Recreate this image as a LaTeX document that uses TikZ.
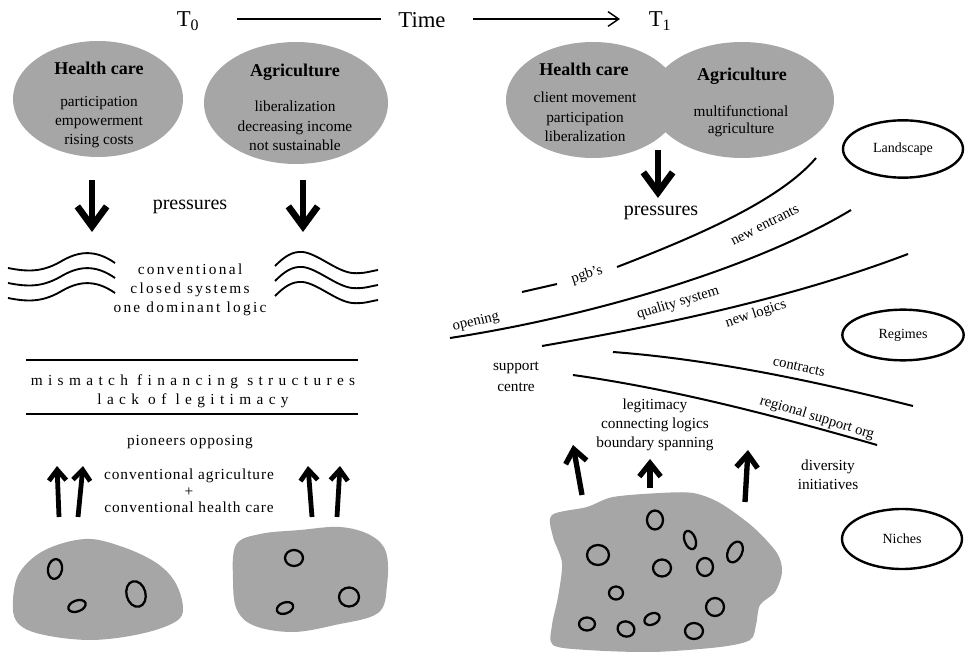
\documentclass[tikz,border=0pt]{standalone}
\usepackage{fontspec}
\setmainfont{Liberation Serif}
\newfontfamily\wideA[LetterSpace=15]{Liberation Serif}
\newfontfamily\wideB[LetterSpace=35]{Liberation Serif}
\newfontfamily\wideC[LetterSpace=6]{Liberation Serif}
\usetikzlibrary{arrows.meta,shapes.geometric}
\definecolor{blobgray}{HTML}{A6A6A6}

\begin{document}
\begin{tikzpicture}[x=0.75pt,y=-0.75pt,
  txt/.style={inner sep=0pt, align=center, font=\fontsize{11.5}{13.5}\selectfont},
  title/.style={inner sep=0pt, font=\fontsize{13.5}{15}\selectfont\bfseries},
  big/.style={inner sep=0pt, font=\fontsize{17}{19}\selectfont},
  press/.style={inner sep=0pt, font=\fontsize{15}{17}\selectfont},
  curvelbl/.style={inner sep=0pt, font=\fontsize{11}{13}\selectfont},
  levelbox/.style={draw=black, line width=1.8pt, ellipse, inner sep=0pt},
  sector/.style={fill=blobgray},
  blob/.style={fill=blobgray},
  loop/.style={draw=black, line width=1.7pt},
  trend/.style={draw=black, line width=1.5pt},
  wave/.style={draw=black, line width=1.4pt},
  bigdown/.style={line width=5pt, -{Straight Barb[length=15pt,width=22pt]}},
  upA/.style={line width=3.6pt, -{Straight Barb[length=8pt,width=13pt]}},
  upB/.style={line width=4pt, -{Straight Barb[length=10pt,width=16pt]}},
  timeline/.style={line width=1.1pt},
  timearrow/.style={line width=1.1pt, -{Straight Barb[length=8pt,width=11pt]}}
]
\useasboundingbox (0,0) rectangle (968,652);

% ---------- time axis ----------
\node[big] (t0) at (188,21) {T\textsubscript{0}};
\node[big] (time) at (422,20) {Time};
\node[big] (t1) at (660,21) {T\textsubscript{1}};
\coordinate (ax1) at (237,19);
\coordinate (ax2) at (381,19);
\coordinate (ax3) at (473,19);
\coordinate (ax4) at (620,19);
\draw[timeline] (ax1) -- (ax2);
\draw[timearrow] (ax3) -- (ax4);

% ---------- T0: sectors ----------
\fill[sector] (98,99) ellipse [x radius=85, y radius=58];
\fill[sector] (296,103) ellipse [x radius=92, y radius=61];
\node[title] (hcL) at (99,68) {Health care};
\node[txt] (hcLtxt) at (99,122) {participation\\[1pt]empowerment\\[1pt]rising costs};
\node[title] (agL) at (295,72) {Agriculture};
\node[txt] (agLtxt) at (295,126) {liberalization\\[1pt]decreasing income\\[1pt]not sustainable};

% pressures
\coordinate (pdL1) at (92,180);
\coordinate (pdL2) at (92,232);
\coordinate (pdR1) at (303,180);
\coordinate (pdR2) at (303,232);
\draw[bigdown] (pdL1) -- (pdL2);
\draw[bigdown] (pdR1) -- (pdR2);
\node[press] (pressL) at (190,207) {pressures};

% closed systems with waves
\foreach \o in {0,15,30}{
  \draw[wave] (8,268+\o) .. controls (28,272+\o) and (42,272+\o) .. (60,262+\o)
              .. controls (78,251+\o) and (95,249+\o) .. (115,263+\o);
  \draw[wave] (275,266+\o) .. controls (284,257+\o) and (292,251+\o) .. (303,252+\o)
              .. controls (318,254+\o) and (336,271+\o) .. (352,273+\o)
              .. controls (364,274+\o) and (371,271+\o) .. (378,270+\o);
}
\node[txt, font=\fontsize{11.5}{13.5}\selectfont\wideA] (closed) at (190,290)
  {conventional\\[0.5pt]closed systems\\[0.5pt]one dominant logic};

% mismatch band
\coordinate (bandA1) at (26,360);
\coordinate (bandA2) at (358,360);
\coordinate (bandB1) at (26,414);
\coordinate (bandB2) at (358,414);
\draw[trend] (bandA1) -- (bandA2);
\draw[trend] (bandB1) -- (bandB2);
\node[txt, font=\fontsize{11.5}{13.5}\selectfont\wideB] (mismatch) at (193,391)
  {mismatch financing structures\\[1pt]lack of legitimacy};

% pioneers
\node[txt, font=\fontsize{11.5}{13.5}\selectfont\wideC] (pioneers) at (190,442) {pioneers opposing};
\node[txt, font=\fontsize{11.5}{12.5}\selectfont\wideC] (convent) at (189,491)
  {conventional agriculture\\+\\conventional health care};
\coordinate (uL1a) at (59,517); \coordinate (uL1b) at (57,466);
\coordinate (uL2a) at (78,517); \coordinate (uL2b) at (83,466);
\coordinate (uR1a) at (312,517); \coordinate (uR1b) at (308,466);
\coordinate (uR2a) at (337,517); \coordinate (uR2b) at (340,466);
\draw[upA] (uL1a) -- (uL1b);
\draw[upA] (uL2a) -- (uL2b);
\draw[upA] (uR1a) -- (uR1b);
\draw[upA] (uR2a) -- (uR2b);

% niche blobs at T0
\fill[blob] plot[smooth cycle, tension=0.6] coordinates
  {(13,600) (20,572) (45,550) (85,539) (120,546) (155,562) (175,582) (183,608)
   (175,622) (140,634) (90,640) (40,634) (17,622)};
\draw[loop] (55,569) ellipse [x radius=7, y radius=10, rotate=-10];
\draw[loop] (77,606) ellipse [x radius=9, y radius=5.5, rotate=20];
\draw[loop] (136,594) ellipse [x radius=9.5, y radius=13, rotate=15];

\fill[blob] plot[smooth cycle, tension=0.6] coordinates
  {(236,545) (260,534) (300,530) (340,527) (370,535) (386,552) (387,585)
   (378,613) (335,625) (293,632) (255,626) (237,610) (233,580)};
\draw[loop] (294,558) ellipse [x radius=9, y radius=8];
\draw[loop] (285,608) ellipse [x radius=8.5, y radius=5.5, rotate=20];
\draw[loop] (349,597) ellipse [x radius=10, y radius=9.5];

% ---------- T1: merged sectors ----------
\fill[sector] (593,100) ellipse [x radius=87, y radius=58];
\fill[sector] (742,100) ellipse [x radius=92, y radius=58];
\node[title] (hcR) at (584,69) {Health care};
\node[txt, font=\fontsize{11.5}{14.5}\selectfont] (hcRtxt) at (585,117)
  {client movement\\participation\\liberalization};
\node[title] (agR) at (742,76) {Agriculture};
\node[txt, font=\fontsize{11.5}{13}\selectfont] (agRtxt) at (741,121)
  {multifunctional\\agriculture};
\coordinate (pdT1) at (658,150);
\coordinate (pdT2) at (658,198);
\draw[bigdown] (pdT1) -- (pdT2);
\node[press] (pressR) at (661,213) {pressures};

% level ellipses
\node[levelbox, minimum width=90pt, minimum height=43pt] (landscape) at (903,149)
  {\fontsize{10.5}{12}\selectfont Landscape};
\node[levelbox, minimum width=91pt, minimum height=38pt] (regimes) at (903,335)
  {\fontsize{10.5}{12}\selectfont Regimes};
\node[levelbox, minimum width=90pt, minimum height=45pt] (niches) at (902,539)
  {\fontsize{10.5}{12}\selectfont Niches};

% landscape / regime trend lines
\coordinate (cA0) at (522,292); \coordinate (cA1) at (557,284);
\coordinate (cA2) at (617,267); \coordinate (cA3) at (816,158);
\draw[trend] (cA0) -- (cA1);
\draw[trend] (cA2) .. controls (700,235) and (780,200) .. (cA3);
\coordinate (cB0) at (450,338); \coordinate (cB1) at (851,210);
\draw[trend] (cB0) .. controls (600,315) and (760,265) .. (cB1);
\coordinate (cC0) at (542,346); \coordinate (cC1) at (908,254);
\draw[trend] (cC0) .. controls (680,322) and (800,295) .. (cC1);
\coordinate (cD0) at (613,352); \coordinate (cD1) at (913,406);
\draw[trend] (cD0) .. controls (720,360) and (830,385) .. (cD1);
\coordinate (cE0) at (573,375); \coordinate (cE1) at (877,445);
\draw[trend] (cE0) .. controls (680,390) and (790,420) .. (cE1);

\node[curvelbl, rotate=18] (pgb) at (587,275) {pgb's};
\node[curvelbl, rotate=13] (opening) at (476,322) {opening};
\node[curvelbl, rotate=27] (entrants) at (765,225) {new entrants};
\node[curvelbl, rotate=17] (quality) at (678,303) {quality system};
\node[curvelbl, rotate=18] (logics) at (756,314) {new logics};
\node[curvelbl, rotate=-12] (contracts) at (799,367) {contracts};
\node[curvelbl, rotate=-17] (regional) at (817,418) {regional support org};

\node[txt] (support) at (516,377) {support\\[2pt]centre};
\node[txt] (legit) at (655,425) {legitimacy\\[1pt]connecting logics\\[1pt]boundary spanning};
\node[txt] (diversity) at (828,475) {diversity\\[1pt]initiatives};

\coordinate (uT1a) at (582,495); \coordinate (uT1b) at (573,445);
\coordinate (uT2a) at (650,488); \coordinate (uT2b) at (650,459);
\coordinate (uT3a) at (745,502); \coordinate (uT3b) at (748,450);
\draw[upB] (uT1a) -- (uT1b);
\draw[upB] (uT2a) -- (uT2b);
\draw[upB] (uT3a) -- (uT3b);

% niche blob at T1
\fill[blob] plot[smooth cycle, tension=0.5] coordinates
  {(552,515) (587,507) (613,497) (660,493) (693,493) (720,503) (753,527)
   (777,553) (782,572) (775,592) (760,605) (756,625) (750,640) (720,647)
   (653,652) (587,650) (553,645) (552,625) (558,597) (562,563) (553,537)};
\draw[loop] (655,520) ellipse [x radius=8, y radius=9.5];
\draw[loop] (690,540) ellipse [x radius=5.5, y radius=9.5, rotate=20];
\draw[loop] (598,555) ellipse [x radius=11, y radius=10];
\draw[loop] (662,568) ellipse [x radius=9, y radius=8.5];
\draw[loop] (735,552) ellipse [x radius=7, y radius=11, rotate=-25];
\draw[loop] (705,567) ellipse [x radius=8, y radius=9];
\draw[loop] (616,593) ellipse [x radius=7, y radius=6.5];
\draw[loop] (715,607) ellipse [x radius=9, y radius=9];
\draw[loop] (587,624) ellipse [x radius=8, y radius=6.5];
\draw[loop] (626,629) ellipse [x radius=8.5, y radius=7.5, rotate=-20];
\draw[loop] (652,619) ellipse [x radius=8, y radius=5.5, rotate=25];
\draw[loop] (694,631) ellipse [x radius=9, y radius=8];
\end{tikzpicture}
\end{document}
